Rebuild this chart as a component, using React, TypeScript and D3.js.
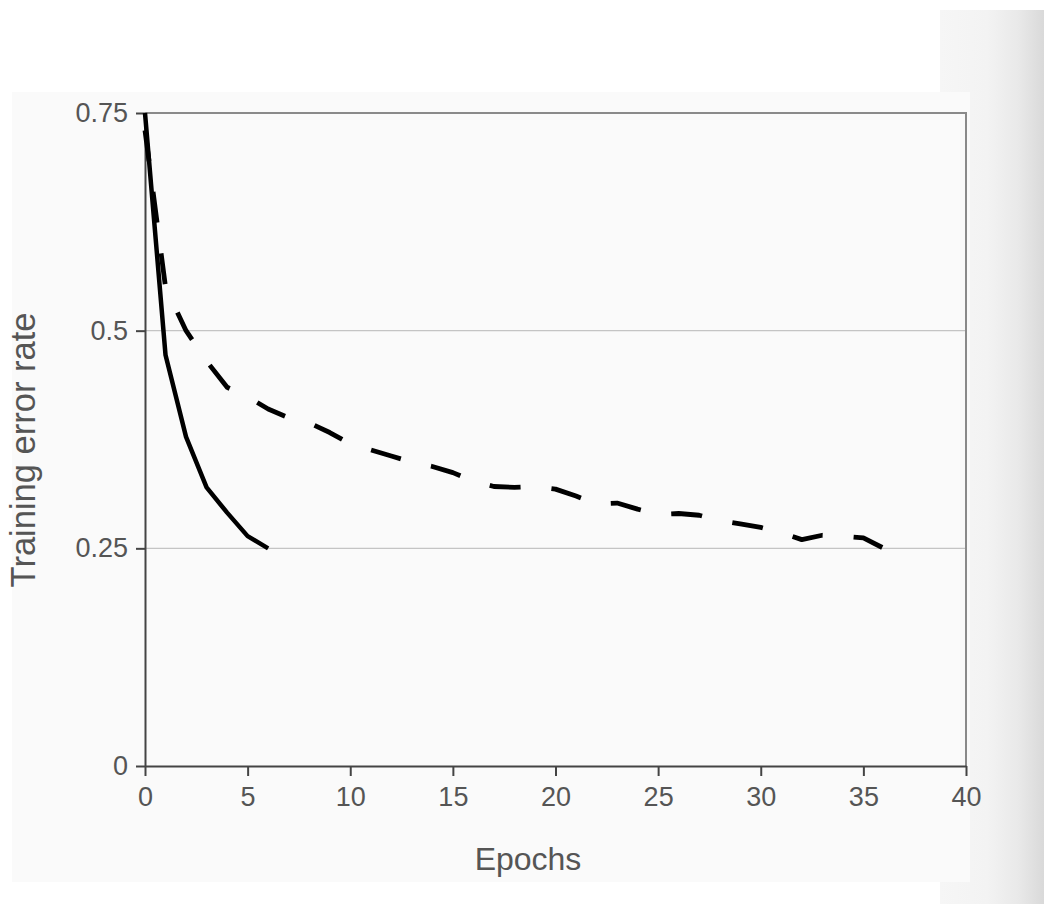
import React, { useRef, useEffect } from 'react'
import * as d3 from 'd3'

// epochs on the x axis
const epochsFast: number[] = [0, 1, 2, 3, 4, 5, 6]
const errorFast: number[] = [0.75, 0.472, 0.378, 0.32, 0.291, 0.264, 0.25]

const epochsSlow: number[] = [
  0, 1, 2, 3, 4, 5, 6, 7, 8, 9, 10, 11, 12, 13, 14, 15, 16, 17, 18,
  19, 20, 21, 22, 23, 24, 25, 26, 27, 28, 29, 30, 31, 32, 33, 34, 35, 36,
]
const errorSlow: number[] = [
  0.73, 0.55, 0.5, 0.465, 0.435, 0.424, 0.41, 0.4, 0.394, 0.383, 0.37,
  0.363, 0.356, 0.349, 0.344, 0.337, 0.327, 0.321, 0.32, 0.321, 0.318,
  0.31, 0.301, 0.302, 0.295, 0.289, 0.29, 0.288, 0.282, 0.278, 0.274,
  0.268, 0.26, 0.265, 0.264, 0.262, 0.25,
]

const xTicks: number[] = [0, 5, 10, 15, 20, 25, 30, 35, 40]
const yTicks: number[] = [0, 0.25, 0.5, 0.75]
const yTickLabels: string[] = ['0', '0.25', '0.5', '0.75']

const W = 1044
const H = 904
const FONT = '"Liberation Sans", Arial, sans-serif'

const App = () => {
  const ref = useRef<SVGSVGElement>(null)

  useEffect(() => {
    const svg = d3.select(ref.current)
    svg.selectAll('*').remove()

    const left = 145, right = 966, top = 113, bottom = 766

    const x = d3.scaleLinear().domain([0, 40]).range([left, right])
    const y = d3.scaleLinear().domain([0, 0.75]).range([bottom, top])

    // backdrop: white page, gray strip on the right, light panel
    const defs = svg.append('defs')
    const grad = defs.append('linearGradient')
      .attr('id', 'strip')
      .attr('x1', '0').attr('x2', '1').attr('y1', '0').attr('y2', '0')
    grad.append('stop').attr('offset', '0').attr('stop-color', '#f6f6f6')
    grad.append('stop').attr('offset', '0.45').attr('stop-color', '#f3f3f3')
    grad.append('stop').attr('offset', '0.75').attr('stop-color', '#e9e9e9')
    grad.append('stop').attr('offset', '1').attr('stop-color', '#d9d9d9')

    svg.append('rect').attr('width', W).attr('height', H).attr('fill', '#ffffff')
    svg.append('rect')
      .attr('x', 940).attr('y', 10).attr('width', W - 940).attr('height', H - 10)
      .attr('fill', 'url(#strip)')
    svg.append('rect')
      .attr('x', 12).attr('y', 92).attr('width', 958).attr('height', 790)
      .attr('fill', '#fafafa')

    // gridlines
    svg.append('g')
      .selectAll('line')
      .data([0.25, 0.5])
      .enter()
      .append('line')
      .attr('x1', left).attr('x2', right)
      .attr('y1', d => y(d)).attr('y2', d => y(d))
      .attr('stroke', '#c4c4c4')
      .attr('stroke-width', 1.2)

    // frame: top and right lighter
    svg.append('path')
      .attr('d', `M${left},${top}H${right}V${bottom}`)
      .attr('fill', 'none')
      .attr('stroke', '#8a8a8a')
      .attr('stroke-width', 2)

    const xAxis = svg.append('g')
      .attr('transform', `translate(0, ${bottom})`)
      .call(d3.axisBottom(x).tickValues(xTicks).tickSize(10).tickSizeOuter(0).tickPadding(11))
    xAxis.select('.domain').attr('stroke', '#444').attr('stroke-width', 2.2)
    xAxis.selectAll('.tick line').attr('stroke', '#444').attr('stroke-width', 2)
    xAxis.selectAll('text')
      .attr('font-family', FONT)
      .attr('font-size', 27)
      .attr('fill', '#555')

    const yAxis = svg.append('g')
      .attr('transform', `translate(${left}, 0)`)
      .call(d3.axisLeft(y)
        .tickValues(yTicks)
        .tickFormat((d, i) => yTickLabels[i])
        .tickSize(9)
        .tickSizeOuter(0)
        .tickPadding(8))
    yAxis.select('.domain').attr('stroke', '#444').attr('stroke-width', 2)
    yAxis.selectAll('.tick line').attr('stroke', '#444').attr('stroke-width', 2)
    yAxis.selectAll('text')
      .attr('font-family', FONT)
      .attr('font-size', 27)
      .attr('fill', '#555')

    const line = d3.line()

    svg.append('path')
      .datum(epochsSlow.map((e, i) => [x(e), y(errorSlow[i])] as [number, number]))
      .attr('fill', 'none')
      .attr('stroke', '#000')
      .attr('stroke-width', 4.8)
      .attr('stroke-linejoin', 'round')
      .attr('stroke-dasharray', '31,31')
      .attr('d', line)

    svg.append('path')
      .datum(epochsFast.map((e, i) => [x(e), y(errorFast[i])] as [number, number]))
      .attr('fill', 'none')
      .attr('stroke', '#000')
      .attr('stroke-width', 4.5)
      .attr('stroke-linejoin', 'round')
      .attr('d', line)

    // axis titles
    svg.append('text')
      .attr('x', 528)
      .attr('y', 870)
      .attr('text-anchor', 'middle')
      .attr('font-family', FONT)
      .attr('font-size', 32)
      .attr('fill', '#555')
      .text('Epochs')

    svg.append('text')
      .attr('transform', `translate(35, 450) rotate(-90)`)
      .attr('text-anchor', 'middle')
      .attr('font-family', FONT)
      .attr('font-size', 34.5)
      .attr('fill', '#555')
      .text('Training error rate')
  }, [])

  return (
    <svg
      ref={ref}
      width={W}
      height={H}
      style={{ position: 'absolute', left: 0, top: 0 }}
    ></svg>
  )
}

export default App
